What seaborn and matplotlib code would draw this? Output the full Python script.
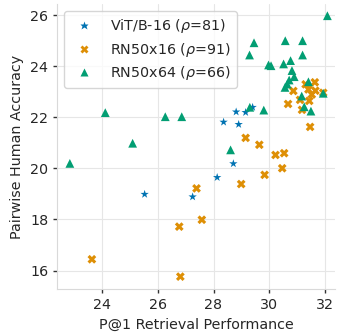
import pandas as pd
import matplotlib.pyplot as plt
import seaborn as sns

# --- Data ---
vit_x = [25.53, 27.25, 28.13, 28.71, 28.36, 28.81, 28.90, 29.15, 29.40]
vit_y = [18.99, 18.89, 19.65, 20.19, 21.82, 22.22, 21.73, 22.20, 22.40]

rn16_x = [23.64, 26.81, 26.77, 27.58, 27.39, 28.99, 29.83, 30.46, 30.22, 30.53,
          29.64, 29.15, 31.46, 30.67, 31.17, 30.86, 31.10, 31.30, 31.40, 31.43,
          31.52, 31.63, 31.65, 31.93]
rn16_y = [16.44, 15.76, 17.72, 17.99, 19.22, 19.39, 19.75, 20.01, 20.53, 20.60,
          20.93, 21.20, 21.63, 22.53, 22.30, 23.04, 22.69, 23.30, 23.10, 22.65,
          22.90, 23.38, 23.05, 22.97]

rn64_x = [22.85, 24.12, 25.10, 26.27, 26.86, 28.61, 29.30, 29.80, 29.29, 29.45,
          29.97, 30.57, 31.19, 31.19, 30.51, 30.76, 30.81, 30.89, 30.71, 30.64,
          30.56, 31.40, 31.16, 31.25, 31.49, 31.93, 32.08, 30.06]
rn64_y = [20.20, 22.19, 20.99, 22.03, 22.03, 20.73, 22.40, 22.29, 24.45, 24.93,
          24.06, 25.01, 25.01, 24.45, 24.10, 24.23, 23.84, 23.60, 23.47, 23.31,
          23.18, 23.40, 22.84, 22.42, 22.25, 22.95, 25.99, 24.03]

labels = ["ViT/B-16 ($\\rho$=81)", "RN50x16 ($\\rho$=91)", "RN50x64 ($\\rho$=66)"]

df = pd.concat([
    pd.DataFrame({"x": vit_x, "y": vit_y, "model": labels[0]}),
    pd.DataFrame({"x": rn16_x, "y": rn16_y, "model": labels[1]}),
    pd.DataFrame({"x": rn64_x, "y": rn64_y, "model": labels[2]}),
])

# --- Plot ---
sns.set_style("whitegrid", {"xtick.bottom": True, "ytick.left": True,
                            "grid.color": "#e6e6e6", "axes.edgecolor": "#d9d9d9"})
fig, ax = plt.subplots(figsize=(3.39, 3.33), dpi=100)
fig.subplots_adjust(left=0.169, right=0.988, bottom=0.131, top=0.988)

sns.scatterplot(data=df, x="x", y="y", hue="model", style="model",
                markers=["*", "X", "^"], palette="colorblind", s=40,
                edgecolor="none", ax=ax)
sns.despine(ax=ax)

ax.set_xlim(22.4, 32.35)
ax.set_ylim(15.26, 26.45)
ax.set_xticks([24, 26, 28, 30, 32])
ax.set_yticks([16, 18, 20, 22, 24, 26])
ax.set_xlabel("P@1 Retrieval Performance", fontsize=10.3)
ax.set_ylabel("Pairwise Human Accuracy", fontsize=10.3)
ax.tick_params(labelsize=10.3, length=3, width=1, color="#333333")
ax.legend(loc="upper left", fontsize=10.3, title=None, labelspacing=0.4)

plt.savefig("out.png")
